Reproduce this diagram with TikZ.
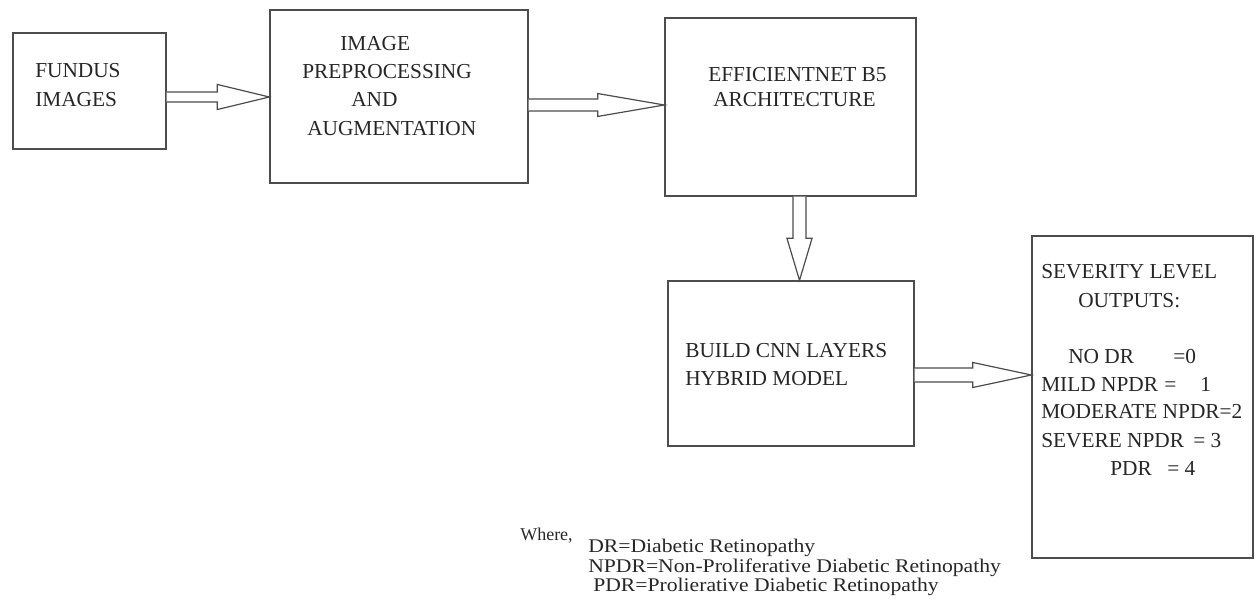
\documentclass[tikz,border=0pt]{standalone}
\usepackage{fontspec}
\setmainfont{Liberation Serif}
\newfontfamily\legendfont[FakeStretch=1.12]{Liberation Serif}
\usetikzlibrary{calc}

\tikzset{
  box/.style={draw=black!70, line width=1pt, rectangle, inner sep=0pt},
  blockarrow/.style={draw=black!70, line width=0.9pt, line join=miter, fill=white},
  txt/.style={inner sep=0pt, anchor=base west, text=black!85,
              font=\fontsize{16}{20}\selectfont},
  smalltxt/.style={txt, font=\fontsize{13.5}{16}\selectfont},
  legendtxt/.style={txt, font=\legendfont\fontsize{14.5}{17}\selectfont},
}

% hollow block arrow pointing right: #1 shaft start, #2 tip,
% #3 shaft half width, #4 head half width, #5 head length
\newcommand\rightblockarrow[5]{%
  \draw[blockarrow] let \p1=(#1), \p2=(#2) in
    ({\x1},{\y2+#3}) -- ({\x2-#5},{\y2+#3}) -- ({\x2-#5},{\y2+#4}) --
    (\x2,\y2) -- ({\x2-#5},{\y2-#4}) -- ({\x2-#5},{\y2-#3}) -- ({\x1},{\y2-#3});}
% hollow block arrow pointing down, same arguments
\newcommand\downblockarrow[5]{%
  \draw[blockarrow] let \p1=(#1), \p2=(#2) in
    ({\x2+#3},{\y1}) -- ({\x2+#3},{\y2+#5}) -- ({\x2+#4},{\y2+#5}) --
    (\x2,\y2) -- ({\x2-#4},{\y2+#5}) -- ({\x2-#3},{\y2+#5}) -- ({\x2-#3},{\y1});}

\begin{document}
\begin{tikzpicture}[x=0.75pt, y=-0.75pt]
\useasboundingbox (0,0) rectangle (1257,613);

% process boxes
\node[box, minimum width=153*0.75pt, minimum height=116*0.75pt] (fundus) at (89.5,91) {};
\node[box, minimum width=258*0.75pt, minimum height=173*0.75pt] (prep) at (399,96.5) {};
\node[box, minimum width=251*0.75pt, minimum height=178*0.75pt] (effnet) at (790.5,107) {};
\node[box, minimum width=246*0.75pt, minimum height=165*0.75pt] (cnn) at (791,363.5) {};
\node[box, minimum width=221*0.75pt, minimum height=322*0.75pt] (out) at (1142.5,397) {};

% arrow end points on the box borders
\coordinate (a1s) at (fundus.east |- 0,97);
\coordinate (a1t) at (prep.west |- 0,97);
\coordinate (a2s) at (prep.east |- 0,105);
\coordinate (a2t) at (effnet.west |- 0,105);
\coordinate (a3s) at (799.5,0 |- effnet.south);
\coordinate (a3t) at (799.5,0 |- cnn.north);
\coordinate (a4s) at (cnn.east |- 0,375);
\coordinate (a4t) at (out.west |- 0,375);

\rightblockarrow{a1s}{a1t}{3.75pt}{9.4pt}{39pt}
\rightblockarrow{a2s}{a2t}{4.5pt}{8.6pt}{50pt}
\downblockarrow{a3s}{a3t}{4.9pt}{9.4pt}{31.5pt}
\rightblockarrow{a4s}{a4t}{5.25pt}{9.4pt}{44pt}

% box texts
\node[txt] (f1) at (35,78) {FUNDUS};
\node[txt] (f2) at (35,107) {IMAGES};

\node[txt] (p1) at (340,51) {IMAGE};
\node[txt] (p2) at (302,79) {PREPROCESSING};
\node[txt] (p3) at (351,107) {AND};
\node[txt] (p4) at (307,136) {AUGMENTATION};

\node[txt] (e1) at (708,82) {EFFICIENTNET B5};
\node[txt] (e2) at (713,107) {ARCHITECTURE};

\node[txt] (c1) at (685,357) {BUILD CNN LAYERS};
\node[txt] (c2) at (685,385) {HYBRID MODEL};

\node[txt] (o1) at (1041,278) {SEVERITY LEVEL};
\node[txt] (o2) at (1078,307) {OUTPUTS:};
\node[txt] (o3) at (1068,363) {NO DR};
\node[txt] (o3v) at (1173,363) {=0};
\node[txt] (o4) at (1041,391) {MILD NPDR};
\node[txt] (o4v) at (1164,391) {=\hspace{18pt}1};
\node[txt] (o5) at (1041,418) {MODERATE NPDR=2};
\node[txt] (o6) at (1041,447) {SEVERE NPDR};
\node[txt] (o6v) at (1193,447) {= 3};
\node[txt] (o7) at (1110,475) {PDR};
\node[txt] (o7v) at (1167,475) {= 4};

% legend
\node[smalltxt] (w) at (520,540) {Where,};
\node[legendtxt] (l1) at (588,552) {DR=Diabetic Retinopathy};
\node[legendtxt] (l2) at (588,572) {NPDR=Non-Proliferative Diabetic Retinopathy};
\node[legendtxt] (l3) at (593,591) {PDR=Prolierative Diabetic Retinopathy};
\end{tikzpicture}
\end{document}
